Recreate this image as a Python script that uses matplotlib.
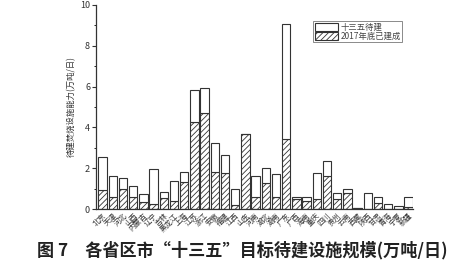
import matplotlib
matplotlib.use("Agg")
import matplotlib.pyplot as plt
import numpy as np

plt.rcParams['font.family'] = ['Noto Sans CJK SC', 'DejaVu Sans']
plt.rcParams['hatch.linewidth'] = 0.6

provinces = ["北京", "天津", "河北", "山西", "内蒙古", "辽宁", "吉林", "黑龙江", "上海", "江苏",
             "浙江", "安徽", "福建", "江西", "山东", "河南", "湖北", "湖南", "广东", "广西",
             "海南", "重庆", "四川", "贵州", "云南", "西藏", "陕西", "甘肃", "青海", "宁夏", "新疆"]
total = [2.54, 1.62, 1.51, 1.15, 0.72, 1.94, 0.82, 1.38, 1.82, 5.83,
         5.91, 3.26, 2.64, 0.97, 3.67, 1.61, 2.03, 1.72, 9.08, 0.60,
         0.57, 1.78, 2.36, 0.77, 0.97, 0.06, 0.77, 0.59, 0.23, 0.13, 0.57]
built = [0.93, 0.57, 0.98, 0.57, 0.34, 0.27, 0.56, 0.41, 1.31, 4.26,
         4.70, 1.83, 1.77, 0.20, 3.67, 0.57, 1.28, 0.57, 3.42, 0.51,
         0.41, 0.51, 1.64, 0.51, 0.77, 0.04, 0.00, 0.28, 0.00, 0.00, 0.10]
remaining = [t - b for t, b in zip(total, built)]

fig = plt.figure(figsize=(4.7, 2.74), dpi=100)
ax = fig.add_axes([0.205, 0.237, 0.674, 0.745])

x = np.arange(len(provinces))
w = 0.83
ax.bar(x, built, w, color='white', edgecolor='#333333', hatch='//////', linewidth=0.8,
       label='2017年底已建成')
ax.bar(x, remaining, w, bottom=built, color='white', edgecolor='#333333', linewidth=0.8,
       label='十三五待建')

ax.set_xlim(-0.62, 30.45)
ax.set_ylim(0, 10)
ax.set_yticks([0, 2, 4, 6, 8, 10])
ax.set_yticks([1, 3, 5, 7, 9], minor=True)
ax.tick_params(axis='y', labelsize=6.5, length=3, width=0.8, colors='#333333', pad=1.5)
ax.tick_params(axis='y', which='minor', length=1.8, width=0.6)
ax.set_xticks(x)
ax.set_xticklabels(provinces, rotation=45, ha='right', va='top', rotation_mode='anchor',
                   fontsize=5.3, color='#333333')
ax.tick_params(axis='x', length=0, pad=2)
for s in ['top', 'right']:
    ax.spines[s].set_visible(False)
ax.spines['left'].set_linewidth(0.9)
ax.spines['bottom'].set_linewidth(0.9)
ax.spines['left'].set_color('#333333')
ax.spines['bottom'].set_color('#333333')

ax.set_ylabel('待建焚烧设施能力(万吨/日)', fontsize=6, color='#333333', labelpad=3)

handles, labels = ax.get_legend_handles_labels()
leg = ax.legend(handles[::-1], labels[::-1], loc='upper right', bbox_to_anchor=(0.965, 0.92),
                fontsize=6, frameon=True, fancybox=False, edgecolor='#555555',
                handlelength=2.8, handleheight=1.1, borderpad=0.15, labelspacing=0.05,
                handletextpad=0.3, borderaxespad=0.0)
leg.get_frame().set_linewidth(0.6)
for t in leg.get_texts():
    t.set_color('#444444')

fig.text(0.515, 0.088, '图 7　各省区市“十三五”目标待建设施规模(万吨/日)',
         ha='center', va='center', fontsize=12.3, fontweight='bold', color='#222222')

fig.savefig('out.png', dpi=100)
